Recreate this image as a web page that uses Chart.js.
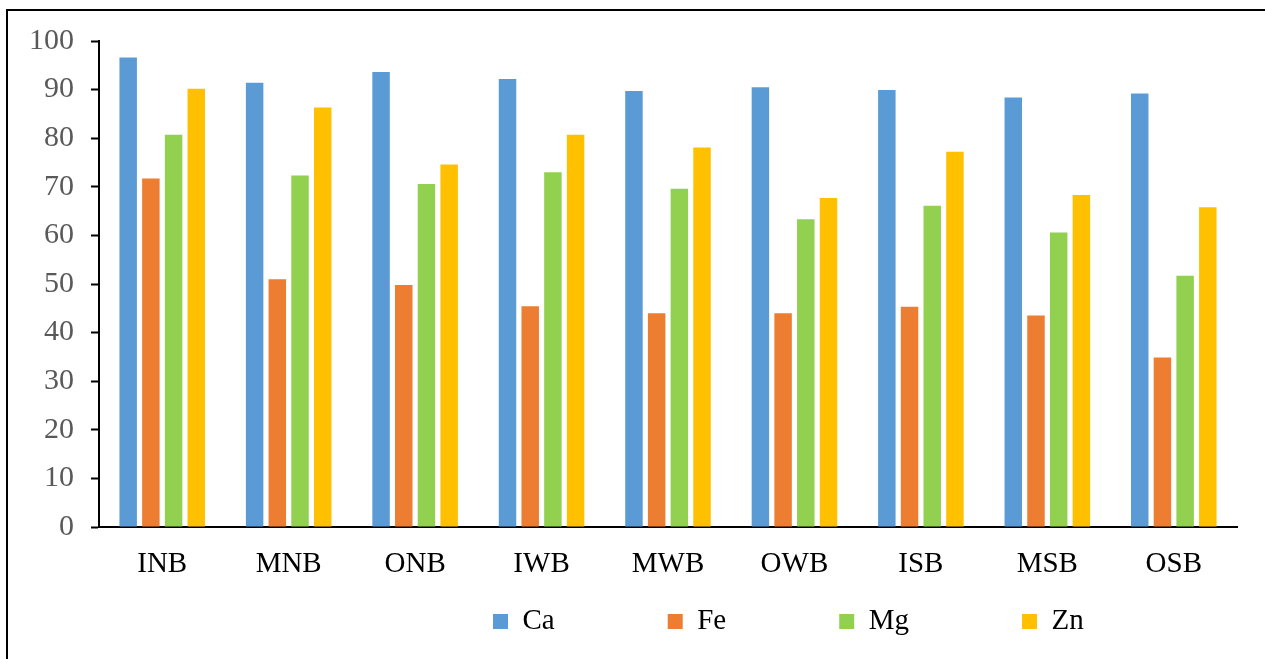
<!DOCTYPE html>
<html>
<head>
<meta charset="utf-8">
<script src="https://cdn.jsdelivr.net/npm/chart.js@4"></script>
<style>
  html, body { margin: 0; padding: 0; background: #fff; overflow: hidden; }
  #frame { position: absolute; left: 6px; top: 9px; width: 1400px; height: 800px; border: 2px solid #000; }
  #wrap { position: absolute; left: 0; top: 0; width: 1265px; height: 659px; }
</style>
</head>
<body>
<div id="frame"></div>
<div id="wrap"><canvas id="chart"></canvas></div>
<script>
const sites = ["INB", "MNB", "ONB", "IWB", "MWB", "OWB", "ISB", "MSB", "OSB"];
const ca = [96.6, 91.4, 93.6, 92.2, 89.7, 90.5, 89.9, 88.4, 89.2];
const fe = [71.7, 51.0, 49.8, 45.4, 44.0, 44.0, 45.3, 43.5, 34.9];
const mg = [80.7, 72.3, 70.6, 73.0, 69.6, 63.3, 66.1, 60.6, 51.7];
const zn = [90.2, 86.3, 74.6, 80.7, 78.1, 67.7, 77.2, 68.3, 65.8];
const yTicks = [0, 10, 20, 30, 40, 50, 60, 70, 80, 90, 100];

const serif = "'Liberation Serif', 'DejaVu Serif', serif";

// legend sits below the axis labels, offset to the right like the original
const placeLegend = {
  id: "placeLegend",
  afterLayout(chart) {
    const lg = chart.legend;
    lg.top = 494;
    lg.left = 380;
    lg.right = 1265;
  }
};

new Chart(document.getElementById("chart"), {
  type: "bar",
  data: {
    labels: sites,
    datasets: [
      { label: "Ca", data: ca, backgroundColor: "#5B9BD5" },
      { label: "Fe", data: fe, backgroundColor: "#ED7D31" },
      { label: "Mg", data: mg, backgroundColor: "#92D050" },
      { label: "Zn", data: zn, backgroundColor: "#FFC000" }
    ]
  },
  options: {
    responsive: true,
    maintainAspectRatio: false,
    animation: false,
    categoryPercentage: 0.718,
    barPercentage: 0.77,
    layout: { padding: { top: 41, right: 28, bottom: 0, left: 0 } },
    plugins: {
      legend: {
        position: "bottom",
        align: "start",
        maxHeight: 40,
        labels: {
          boxWidth: 15,
          boxHeight: 15,
          padding: 113,
          color: "#000",
          font: { family: serif, size: 29 }
        }
      },
      tooltip: { enabled: false }
    },
    scales: {
      x: {
        grid: { display: false, drawTicks: false },
        border: { color: "#000", width: 2 },
        ticks: { color: "#000", padding: 20, font: { family: serif, size: 29 } },
        afterFit(scale) { scale.height = 92; }
      },
      y: {
        min: 0,
        max: 100,
        afterBuildTicks(scale) { scale.ticks = yTicks.map(v => ({ value: v })); },
        grid: { drawOnChartArea: false, drawTicks: true, tickLength: 8, tickColor: "#000", tickWidth: 2 },
        border: { color: "#000", width: 2 },
        ticks: { color: "#595959", padding: 17, font: { family: serif, size: 30 } },
        afterFit(scale) { scale.width = 99; }
      }
    }
  },
  plugins: [placeLegend]
});
</script>
</body>
</html>
